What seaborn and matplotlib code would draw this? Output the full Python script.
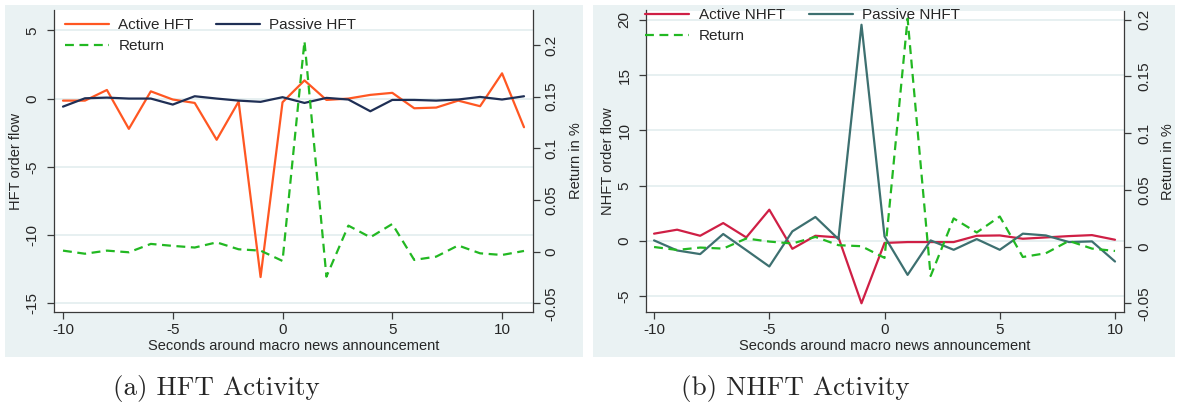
import matplotlib
matplotlib.use("Agg")
import matplotlib.pyplot as plt
import seaborn as sns
from matplotlib.patches import Rectangle

# ---------------- data ----------------
sec_hft = list(range(-10, 12))
active_hft = [-0.15, -0.15, 0.63, -2.22, 0.53, -0.07, -0.32, -3.02, -0.22, -13.08, -0.27,
              1.33, -0.10, 0.0, 0.27, 0.42, -0.71, -0.66, -0.15, -0.56, 1.85, -2.10]
passive_hft = [-0.59, 0.02, 0.07, 0.0, 0.0, -0.44, 0.17, 0.0, -0.15, -0.24, 0.10,
               -0.32, 0.05, -0.07, -0.93, -0.10, -0.10, -0.15, -0.07, 0.12, -0.07, 0.17]
return_hft = [0.001, -0.002, 0.001, -0.0006, 0.0075, 0.0056, 0.004, 0.009, 0.0023, 0.001, -0.009,
              0.2037, -0.0242, 0.0252, 0.0139, 0.0268, -0.008, -0.0048, 0.006, -0.0016, -0.0032, 0.0007]

sec_nhft = list(range(-10, 11))
active_nhft = [0.64, 1.0, 0.45, 1.6, 0.3, 2.81, -0.73, 0.45, 0.3, -5.66, -0.2,
               -0.12, -0.12, -0.12, 0.45, 0.48, 0.18, 0.3, 0.42, 0.51, 0.09]
passive_nhft = [0.03, -0.88, -1.21, 0.61, -0.85, -2.33, 0.85, 2.15, 0.15, 19.55, 0.39,
                -3.09, 0.03, -0.82, 0.15, -0.82, 0.64, 0.48, -0.12, -0.06, -1.88]
return_nhft = [-0.0004, -0.003, -0.0009, -0.0018, 0.0071, 0.0044, 0.0027, 0.0085, 0.0012, 0.0003, -0.010,
               0.201, -0.026, 0.0248, 0.0124, 0.0265, -0.0092, -0.0059, 0.005, -0.0018, -0.0039]

x_ticks = [-10, -5, 0, 5, 10]
hft_yticks = [-15, -10, -5, 0, 5]
nhft_yticks = [-5, 0, 5, 10, 15, 20]
ret_ticks = [-0.05, 0, 0.05, 0.1, 0.15, 0.2]
ret_ticklabels = ["-0.05", "0", "0.05", "0.1", "0.15", "0.2"]

x_label = "Seconds around macro news announcement"
ret_label = "Return in %"
captions = ["(a) HFT Activity", "(b) NHFT Activity"]

# ---------------- style ----------------
sns.set_style("white")
plt.rcParams["font.family"] = ["Liberation Sans", "DejaVu Sans"]
plt.rcParams["axes.unicode_minus"] = False

BG = "#eaf2f3"
GRID = "#e3edef"
SPINE = "#3a3a3a"
ORANGE = "#ff5722"
NAVY = "#1f2f55"
GREEN = "#22b822"
CRIMSON = "#cf1f45"
TEAL = "#3d7070"
DASH = (0, (4, 2.5))

W, H = 1177, 408
fig = plt.figure(figsize=(W / 100, H / 100), dpi=100)
fig.patch.set_facecolor("white")


def fx(px):
    return px / W


def fy(py):
    return 1 - py / H


for x0, x1 in [(5, 583), (593, 1175)]:
    fig.patches.append(Rectangle((fx(x0), fy(357)), fx(x1) - fx(x0), fy(5) - fy(357),
                                 transform=fig.transFigure, facecolor=BG,
                                 edgecolor="none", zorder=-10))


def panel(left, right, top, bottom, x, act, pas, ret, names, colors, ylim, yticks,
          rlim, ylabel, xlim, leg_anchor, colspace, lpad, rpad, rlabelpad):
    ax = fig.add_axes([fx(left), fy(bottom), fx(right) - fx(left), fy(top) - fy(bottom)])
    ax.set_facecolor("white")
    ax2 = ax.twinx()

    sns.lineplot(x=x, y=act, ax=ax, color=colors[0], lw=1.6, label=names[0])
    sns.lineplot(x=x, y=pas, ax=ax, color=colors[1], lw=1.6, label=names[1])
    sns.lineplot(x=x, y=ret, ax=ax2, color=GREEN, lw=1.6, linestyle=DASH, label="Return")
    h_act, h_pas = ax.lines[0], ax.lines[1]
    h_ret = ax2.lines[0]
    for a in (ax, ax2):
        if a.get_legend() is not None:
            a.get_legend().remove()

    ax.set_xlim(*xlim)
    ax.set_ylim(*ylim)
    ax2.set_ylim(*rlim)
    ax.set_xticks(x_ticks)
    ax.set_yticks(yticks)
    ax2.set_yticks(ret_ticks)
    ax2.set_yticklabels(ret_ticklabels)

    ax.set_axisbelow(True)
    ax.yaxis.grid(True, color=GRID, lw=1.2)
    ax.xaxis.grid(False)
    ax2.grid(False)

    for a in (ax, ax2):
        a.spines["top"].set_visible(False)
        for s in a.spines.values():
            s.set_color(SPINE)
            s.set_linewidth(0.9)
    ax.spines["right"].set_visible(False)
    ax2.spines["left"].set_visible(False)
    ax2.spines["bottom"].set_visible(False)

    ax.tick_params(axis="x", direction="out", length=5, width=0.9, color=SPINE,
                   pad=3, labelsize=11, bottom=True)
    ax.tick_params(axis="y", direction="out", length=5, width=0.9, color=SPINE,
                   pad=lpad, labelsize=11, labelrotation=90, left=True)
    ax2.tick_params(axis="y", direction="out", length=5, width=0.9, color=SPINE,
                    pad=rpad, labelsize=11, labelrotation=90, right=True)
    for lbl in ax.get_yticklabels() + ax2.get_yticklabels():
        lbl.set_va("center")

    ax.set_xlabel(x_label, fontsize=10.5, labelpad=1)
    ax.set_ylabel(ylabel, fontsize=10.5, labelpad=2)
    ax2.set_ylabel(ret_label, fontsize=10.5, labelpad=rlabelpad)

    ax2.legend(handles=[h_act, h_ret, h_pas], labels=[names[0], "Return", names[1]],
               ncol=2, loc="upper left", bbox_to_anchor=leg_anchor, frameon=False,
               fontsize=11, handlelength=2.9, handletextpad=0.6, columnspacing=colspace,
               labelspacing=0.45, borderpad=0, borderaxespad=0)
    return ax, ax2


panel(54, 533, 10, 312, sec_hft, active_hft, passive_hft, return_hft,
      ["Active HFT", "Passive HFT"], [ORANGE, NAVY],
      (-15.64, 6.49), hft_yticks, (-0.0584, 0.2339), "HFT order flow",
      (-10.41, 11.41), (0.023, 0.973), 1.45, 5.5, 3, 7.5)

panel(646, 1124, 10.5, 312, sec_nhft, active_nhft, passive_nhft, return_nhft,
      ["Active NHFT", "Passive NHFT"], [CRIMSON, TEAL],
      (-6.45, 20.84), nhft_yticks, (-0.0577, 0.2081), "NHFT order flow",
      (-10.35, 10.39), (-0.002, 1.008), 1.55, 5.5, 4.5, 7)

for cx, txt in zip([216, 795], captions):
    fig.text(fx(cx), fy(389), txt, ha="center", va="center",
             fontsize=19.5, family="cmr10")

fig.savefig("out.png", dpi=100)
